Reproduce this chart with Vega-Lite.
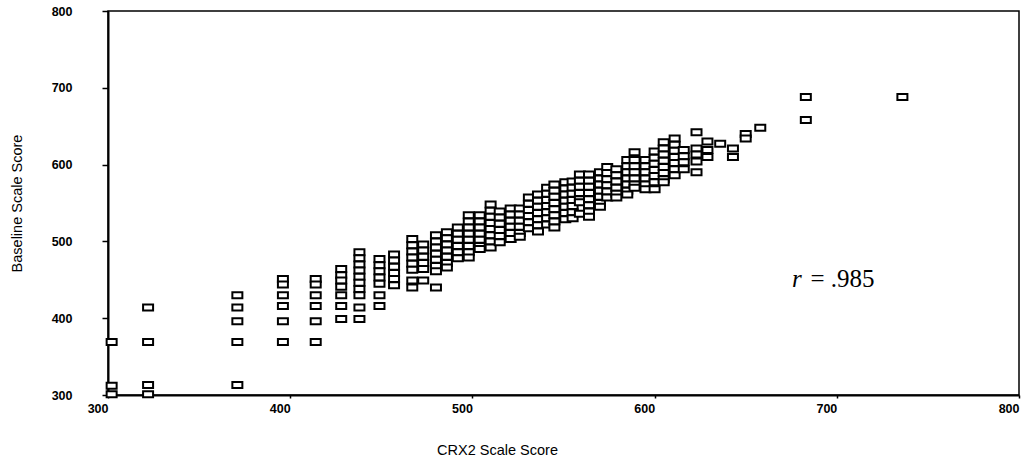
{
  "$schema": "https://vega.github.io/schema/vega-lite/v6.json",
  "width": 911,
  "height": 384,
  "autosize": {"type": "none"},
  "padding": {"left": 108, "top": 11, "right": 7, "bottom": 72},
  "background": "white",
  "config": {
    "view": {"stroke": "black", "strokeWidth": 1.5},
    "axis": {
      "grid": false,
      "domainColor": "black",
      "domainWidth": 2,
      "tickColor": "black",
      "tickWidth": 1.5,
      "labelColor": "black",
      "labelFont": "Liberation Sans",
      "labelFontWeight": "bold",
      "labelFontSize": 12.5,
      "titleFont": "Liberation Sans",
      "titleFontWeight": "normal",
      "titleFontSize": 14.5,
      "titleColor": "black"
    }
  },
  "datasets": {
    "pts": [
      {"x": 302, "y": 369}, {"x": 302, "y": 312}, {"x": 302, "y": 301},
      {"x": 322, "y": 414}, {"x": 322, "y": 369}, {"x": 322, "y": 313}, {"x": 322, "y": 301},
      {"x": 371, "y": 430}, {"x": 371, "y": 414}, {"x": 371, "y": 396}, {"x": 371, "y": 369}, {"x": 371, "y": 313},
      {"x": 396, "y": 451}, {"x": 396, "y": 444}, {"x": 396, "y": 430}, {"x": 396, "y": 416}, {"x": 396, "y": 396}, {"x": 396, "y": 369},
      {"x": 414, "y": 451}, {"x": 414, "y": 444}, {"x": 414, "y": 430}, {"x": 414, "y": 416}, {"x": 414, "y": 396}, {"x": 414, "y": 369},
      {"x": 428, "y": 464}, {"x": 428, "y": 456}, {"x": 428, "y": 449}, {"x": 428, "y": 441}, {"x": 428, "y": 430}, {"x": 428, "y": 416}, {"x": 428, "y": 399},
      {"x": 438, "y": 486}, {"x": 438, "y": 478}, {"x": 438, "y": 470}, {"x": 438, "y": 462}, {"x": 438, "y": 454}, {"x": 438, "y": 446}, {"x": 438, "y": 438}, {"x": 438, "y": 430}, {"x": 438, "y": 414}, {"x": 438, "y": 399},
      {"x": 449, "y": 477}, {"x": 449, "y": 469}, {"x": 449, "y": 461}, {"x": 449, "y": 453}, {"x": 449, "y": 445}, {"x": 449, "y": 430}, {"x": 449, "y": 416},
      {"x": 457, "y": 483}, {"x": 457, "y": 475}, {"x": 457, "y": 467}, {"x": 457, "y": 459}, {"x": 457, "y": 451}, {"x": 457, "y": 443},
      {"x": 467, "y": 503}, {"x": 467, "y": 495}, {"x": 467, "y": 487}, {"x": 467, "y": 479}, {"x": 467, "y": 471}, {"x": 467, "y": 463}, {"x": 467, "y": 449}, {"x": 467, "y": 440},
      {"x": 473, "y": 496}, {"x": 473, "y": 488}, {"x": 473, "y": 480}, {"x": 473, "y": 472}, {"x": 473, "y": 464}, {"x": 473, "y": 449},
      {"x": 480, "y": 508}, {"x": 480, "y": 500}, {"x": 480, "y": 492}, {"x": 480, "y": 484}, {"x": 480, "y": 476}, {"x": 480, "y": 468}, {"x": 480, "y": 461}, {"x": 480, "y": 440},
      {"x": 486, "y": 512}, {"x": 486, "y": 504}, {"x": 486, "y": 496}, {"x": 486, "y": 488}, {"x": 486, "y": 480}, {"x": 486, "y": 472}, {"x": 486, "y": 466},
      {"x": 492, "y": 518}, {"x": 492, "y": 510}, {"x": 492, "y": 502}, {"x": 492, "y": 494}, {"x": 492, "y": 486}, {"x": 492, "y": 478},
      {"x": 498, "y": 534}, {"x": 498, "y": 526}, {"x": 498, "y": 518}, {"x": 498, "y": 510}, {"x": 498, "y": 502}, {"x": 498, "y": 494}, {"x": 498, "y": 486}, {"x": 498, "y": 479},
      {"x": 504, "y": 534}, {"x": 504, "y": 526}, {"x": 504, "y": 518}, {"x": 504, "y": 510}, {"x": 504, "y": 502}, {"x": 504, "y": 494}, {"x": 504, "y": 490},
      {"x": 510, "y": 548}, {"x": 510, "y": 540}, {"x": 510, "y": 532}, {"x": 510, "y": 524}, {"x": 510, "y": 516}, {"x": 510, "y": 508}, {"x": 510, "y": 500}, {"x": 510, "y": 492},
      {"x": 515, "y": 539}, {"x": 515, "y": 531}, {"x": 515, "y": 523}, {"x": 515, "y": 515}, {"x": 515, "y": 507}, {"x": 515, "y": 499},
      {"x": 521, "y": 543}, {"x": 521, "y": 535}, {"x": 521, "y": 527}, {"x": 521, "y": 519}, {"x": 521, "y": 511}, {"x": 521, "y": 503},
      {"x": 526, "y": 543}, {"x": 526, "y": 535}, {"x": 526, "y": 527}, {"x": 526, "y": 519}, {"x": 526, "y": 511}, {"x": 526, "y": 506},
      {"x": 531, "y": 557}, {"x": 531, "y": 549}, {"x": 531, "y": 541}, {"x": 531, "y": 533}, {"x": 531, "y": 525}, {"x": 531, "y": 517},
      {"x": 536, "y": 561}, {"x": 536, "y": 553}, {"x": 536, "y": 545}, {"x": 536, "y": 537}, {"x": 536, "y": 529}, {"x": 536, "y": 521}, {"x": 536, "y": 513},
      {"x": 541, "y": 570}, {"x": 541, "y": 562}, {"x": 541, "y": 554}, {"x": 541, "y": 546}, {"x": 541, "y": 538}, {"x": 541, "y": 530}, {"x": 541, "y": 522},
      {"x": 545, "y": 574}, {"x": 545, "y": 566}, {"x": 545, "y": 558}, {"x": 545, "y": 550}, {"x": 545, "y": 542}, {"x": 545, "y": 534}, {"x": 545, "y": 526}, {"x": 545, "y": 518},
      {"x": 551, "y": 577}, {"x": 551, "y": 569}, {"x": 551, "y": 561}, {"x": 551, "y": 553}, {"x": 551, "y": 545}, {"x": 551, "y": 537}, {"x": 551, "y": 529},
      {"x": 555, "y": 578}, {"x": 555, "y": 570}, {"x": 555, "y": 562}, {"x": 555, "y": 554}, {"x": 555, "y": 546}, {"x": 555, "y": 538}, {"x": 555, "y": 530},
      {"x": 559, "y": 587}, {"x": 559, "y": 579}, {"x": 559, "y": 571}, {"x": 559, "y": 563}, {"x": 559, "y": 555}, {"x": 559, "y": 551}, {"x": 559, "y": 536},
      {"x": 564, "y": 587}, {"x": 564, "y": 579}, {"x": 564, "y": 571}, {"x": 564, "y": 563}, {"x": 564, "y": 555}, {"x": 564, "y": 547}, {"x": 564, "y": 539}, {"x": 564, "y": 532},
      {"x": 570, "y": 590}, {"x": 570, "y": 582}, {"x": 570, "y": 574}, {"x": 570, "y": 566}, {"x": 570, "y": 558}, {"x": 570, "y": 550}, {"x": 570, "y": 545},
      {"x": 574, "y": 597}, {"x": 574, "y": 589}, {"x": 574, "y": 581}, {"x": 574, "y": 573}, {"x": 574, "y": 565}, {"x": 574, "y": 557},
      {"x": 579, "y": 594}, {"x": 579, "y": 586}, {"x": 579, "y": 578}, {"x": 579, "y": 570}, {"x": 579, "y": 562}, {"x": 579, "y": 557},
      {"x": 585, "y": 606}, {"x": 585, "y": 598}, {"x": 585, "y": 590}, {"x": 585, "y": 582}, {"x": 585, "y": 574}, {"x": 585, "y": 566}, {"x": 585, "y": 561},
      {"x": 589, "y": 616}, {"x": 589, "y": 606}, {"x": 589, "y": 598}, {"x": 589, "y": 590}, {"x": 589, "y": 582}, {"x": 589, "y": 574}, {"x": 589, "y": 570},
      {"x": 595, "y": 606}, {"x": 595, "y": 598}, {"x": 595, "y": 590}, {"x": 595, "y": 582}, {"x": 595, "y": 574}, {"x": 595, "y": 568},
      {"x": 600, "y": 617}, {"x": 600, "y": 609}, {"x": 600, "y": 601}, {"x": 600, "y": 593}, {"x": 600, "y": 585}, {"x": 600, "y": 577}, {"x": 600, "y": 568},
      {"x": 605, "y": 629}, {"x": 605, "y": 621}, {"x": 605, "y": 613}, {"x": 605, "y": 605}, {"x": 605, "y": 597}, {"x": 605, "y": 589}, {"x": 605, "y": 581}, {"x": 605, "y": 577},
      {"x": 611, "y": 634}, {"x": 611, "y": 626}, {"x": 611, "y": 618}, {"x": 611, "y": 610}, {"x": 611, "y": 602}, {"x": 611, "y": 594}, {"x": 611, "y": 586},
      {"x": 616, "y": 619}, {"x": 616, "y": 611}, {"x": 616, "y": 603}, {"x": 616, "y": 594},
      {"x": 623, "y": 642}, {"x": 623, "y": 621}, {"x": 623, "y": 613}, {"x": 623, "y": 604}, {"x": 623, "y": 590},
      {"x": 629, "y": 630}, {"x": 629, "y": 619}, {"x": 629, "y": 610},
      {"x": 636, "y": 627},
      {"x": 643, "y": 621}, {"x": 643, "y": 610},
      {"x": 650, "y": 640}, {"x": 650, "y": 634},
      {"x": 658, "y": 648},
      {"x": 683, "y": 688}, {"x": 683, "y": 658},
      {"x": 736, "y": 688}
    ],
    "noteR": [{"x": 675.4, "y": 440, "t": "r"}],
    "noteV": [{"x": 685.5, "y": 440, "t": "= .985"}]
  },
  "layer": [
    {
      "data": {"name": "pts"},
      "mark": {
        "type": "point",
        "shape": "M-1,-0.6H1V0.6H-1Z",
        "size": 100,
        "filled": true,
        "fill": "white",
        "stroke": "black",
        "strokeWidth": 2,
        "opacity": 1
      },
      "encoding": {
        "x": {
          "field": "x",
          "type": "quantitative",
          "scale": {"domain": [300, 800], "nice": false, "zero": false},
          "axis": {
            "values": [300, 400, 500, 600, 700, 800],
            "title": "CRX2 Scale Score",
            "tickSize": 3,
            "labelAlign": "right",
            "labelPadding": 4,
            "titleX": 389,
            "titleY": 55,
            "titleBaseline": "middle"
          }
        },
        "y": {
          "field": "y",
          "type": "quantitative",
          "scale": {"domain": [300, 800], "nice": false, "zero": false},
          "axis": {
            "values": [300, 400, 500, 600, 700, 800],
            "title": "Baseline Scale Score",
            "tickSize": 6,
            "labelPadding": 30,
            "titleX": -91,
            "titleY": 192,
            "titleAngle": -90,
            "titleBaseline": "middle"
          }
        }
      }
    },
    {
      "data": {"name": "noteR"},
      "mark": {
        "type": "text",
        "align": "left",
        "baseline": "alphabetic",
        "font": "Liberation Serif",
        "fontStyle": "italic",
        "fontSize": 25,
        "color": "black"
      },
      "encoding": {
        "x": {"field": "x", "type": "quantitative"},
        "y": {"field": "y", "type": "quantitative"},
        "text": {"field": "t"}
      }
    },
    {
      "data": {"name": "noteV"},
      "mark": {
        "type": "text",
        "align": "left",
        "baseline": "alphabetic",
        "font": "Liberation Serif",
        "fontSize": 25,
        "color": "black"
      },
      "encoding": {
        "x": {"field": "x", "type": "quantitative"},
        "y": {"field": "y", "type": "quantitative"},
        "text": {"field": "t"}
      }
    }
  ]
}
